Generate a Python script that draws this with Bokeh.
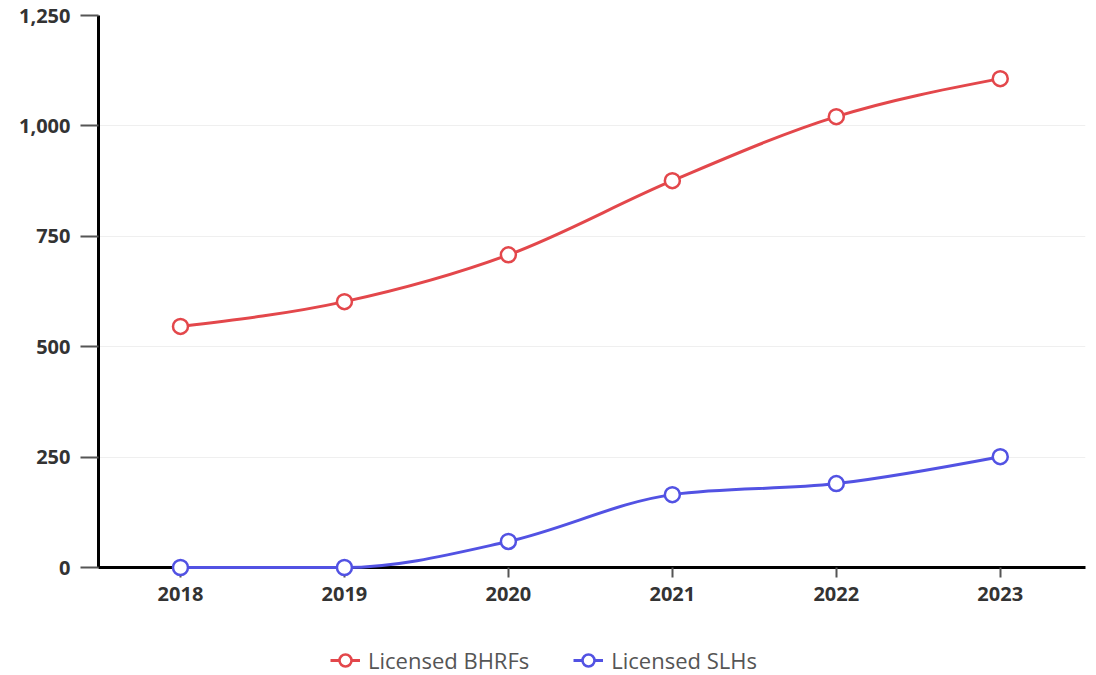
from bokeh.plotting import figure
from bokeh.layouts import column
from bokeh.models import Legend, LegendItem, FixedTicker, NumeralTickFormatter, Range1d
from bokeh.embed import file_html
from bokeh.resources import INLINE

years = [2018, 2019, 2020, 2021, 2022, 2023]
bhrfs = [546, 602, 708, 876, 1021, 1107]
slhs = [0, 0, 59, 165, 190, 251]
y_ticks = [0, 250, 500, 750, 1000, 1250]
series_names = ["Licensed BHRFs", "Licensed SLHs"]

RED = "#e3474b"
BLUE = "#5252e3"


def monotone_tangents(x, y):
    n = len(x)
    t = [0.0] * n
    for i in range(1, n - 1):
        h0 = x[i] - x[i - 1]
        h1 = x[i + 1] - x[i]
        s0 = (y[i] - y[i - 1]) / h0
        s1 = (y[i + 1] - y[i]) / h1
        p = (s0 * h1 + s1 * h0) / (h0 + h1)
        sg = (1 if s0 > 0 else -1 if s0 < 0 else 0) + (1 if s1 > 0 else -1 if s1 < 0 else 0)
        t[i] = sg * min(abs(s0), abs(s1), 0.5 * abs(p)) if sg else 0.0
    h = x[1] - x[0]
    t[0] = (3 * (y[1] - y[0]) / h - t[1]) / 2
    h = x[-1] - x[-2]
    t[-1] = (3 * (y[-1] - y[-2]) / h - t[-2]) / 2
    return t


def bezier_data(x, y):
    t = monotone_tangents(x, y)
    d = dict(x0=[], y0=[], x1=[], y1=[], cx0=[], cy0=[], cx1=[], cy1=[])
    for i in range(len(x) - 1):
        dx = (x[i + 1] - x[i]) / 3
        d["x0"].append(x[i]); d["y0"].append(y[i])
        d["x1"].append(x[i + 1]); d["y1"].append(y[i + 1])
        d["cx0"].append(x[i] + dx); d["cy0"].append(y[i] + dx * t[i])
        d["cx1"].append(x[i + 1] - dx); d["cy1"].append(y[i + 1] - dx * t[i + 1])
    return d


p = figure(width=1096, height=645, output_backend="svg", toolbar_location=None,
           x_range=Range1d(2017.5, 2023.52), y_range=Range1d(0, 1250),
           min_border_left=98, min_border_right=11, min_border_top=15, min_border_bottom=78)
p.outline_line_color = None
p.background_fill_color = "white"
p.border_fill_color = "white"

series = [(bhrfs, RED), (slhs, BLUE)]
for vals, col in series:
    bd = bezier_data(years, vals)
    p.bezier(x0="x0", y0="y0", x1="x1", y1="y1", cx0="cx0", cy0="cy0", cx1="cx1", cy1="cy1",
             source=bd, line_color=col, line_width=3, level="overlay")
    p.scatter(years, vals, size=15, fill_color="white", line_color=col, line_width=2.5,
              level="overlay")

p.xaxis.ticker = FixedTicker(ticks=years)
p.yaxis.ticker = FixedTicker(ticks=y_ticks)
p.yaxis.formatter = NumeralTickFormatter(format="0,0")
for ax in (p.xaxis, p.yaxis):
    ax.axis_line_color = "black"
    ax.axis_line_width = 3
    ax.major_tick_line_color = "#555555"
    ax.major_tick_line_width = 2
    ax.minor_tick_line_color = None
    ax.major_tick_in = 0
    ax.major_label_text_font = "Open Sans"
    ax.major_label_text_font_style = "bold"
    ax.major_label_text_font_size = "20px"
    ax.major_label_text_color = "#333333"
p.yaxis.major_tick_out = 18
p.yaxis.major_label_standoff = 10
p.xaxis.major_tick_out = 10
p.xaxis.major_label_standoff = 9

p.xgrid.grid_line_color = None
p.ygrid.grid_line_color = "#efefef"
p.ygrid.grid_line_width = 1

# legend strip below the chart
lf = figure(width=1096, height=30, output_backend="svg", toolbar_location=None,
            x_range=Range1d(0, 1), y_range=Range1d(0, 1), min_border=0)
lf.axis.visible = False
lf.grid.visible = False
lf.outline_line_color = None
lf.background_fill_color = "white"
lf.border_fill_color = "white"
leg_items = []
for (vals, col), name in zip(series, series_names):
    # legend-only renderers whose data lies outside the strip's view
    l2 = lf.line(years[:1], vals[:1], line_color=col, line_width=3)
    s2 = lf.scatter(years[:1], vals[:1], size=14, fill_color="white", line_color=col,
                    line_width=2.5)
    leg_items.append(LegendItem(label=name, renderers=[l2, s2]))

legend = Legend(items=leg_items, orientation="horizontal", location=(232, 0),
                label_text_font="Open Sans", label_text_font_size="22px",
                label_text_color="#555555", glyph_width=30, glyph_height=30, spacing=44,
                label_standoff=8, border_line_color=None, background_fill_alpha=0,
                margin=0, padding=0)
lf.add_layout(legend, "center")

layout = column(p, lf, spacing=0)
open("out.html", "w").write(file_html(layout, INLINE))
